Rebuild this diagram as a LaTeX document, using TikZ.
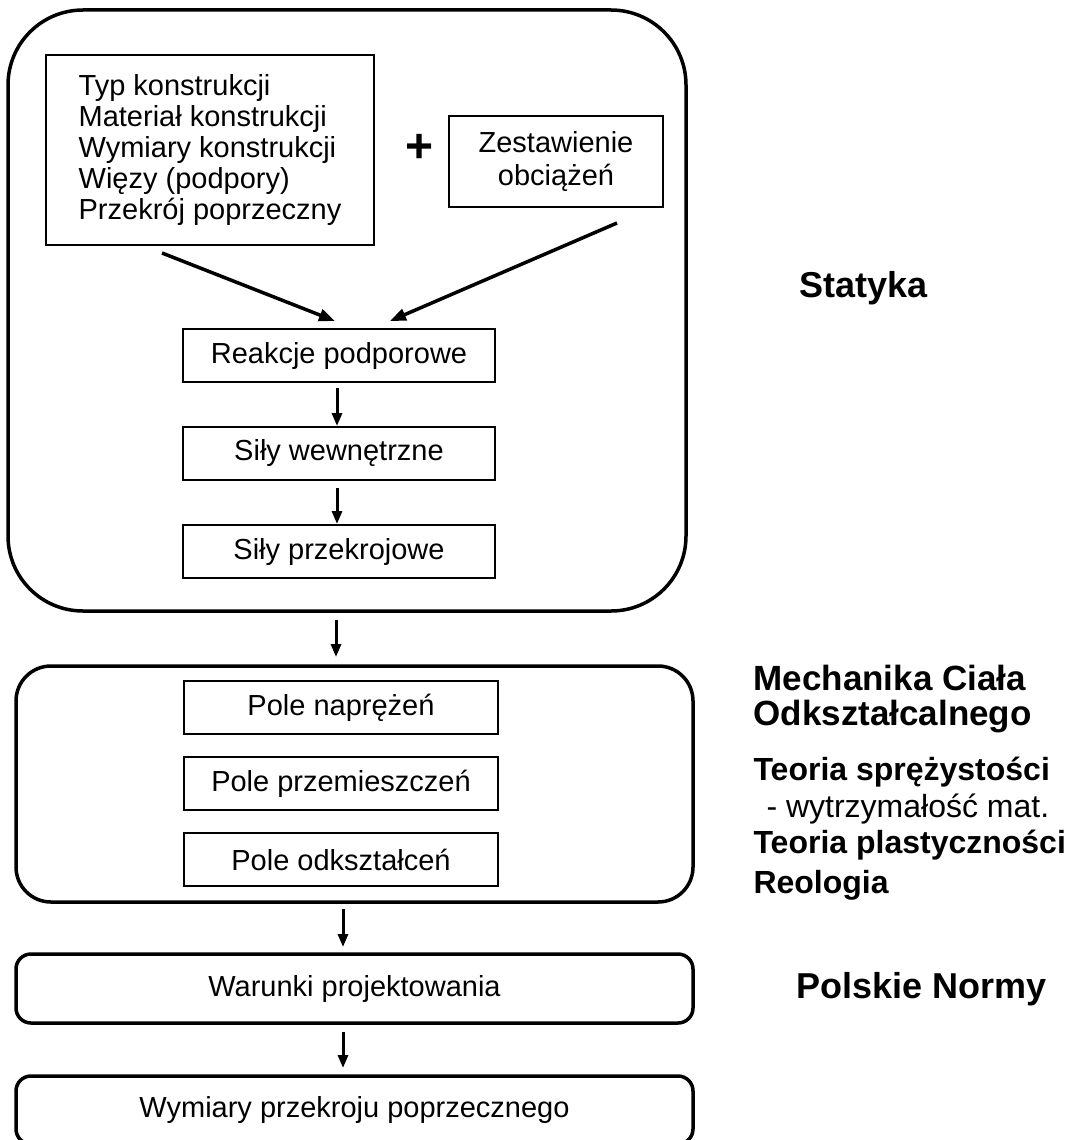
\documentclass[tikz,border=0pt]{standalone}
\usepackage{fontspec}
\setmainfont{Liberation Sans}
\usetikzlibrary{arrows.meta}
\usetikzlibrary{positioning}
\tikzset{
	>={Triangle[length=13pt,width=10pt]},
	punkt/.style={
		rectangle,
		draw=black, line width=2pt,
		minimum width=312pt,
		minimum height=53pt,
		inner sep=0pt, outer sep=0pt,
		text centered,
		font=\fontsize{29}{31}\selectfont},
	grupa/.style={
		rectangle,
		draw=black, line width=3.5pt,
		minimum width=677pt,
		inner sep=0pt, outer sep=0pt,
		font=\fontsize{29}{31}\selectfont},
	line/.style={draw, line width=3pt, ->},
	skos/.style={draw, line width=3.5pt, -{Triangle[length=16pt,width=12pt]}},
	tytul/.style={anchor=base west, font=\bfseries\fontsize{36}{36}\selectfont},
	teoria/.style={anchor=base west, font=\bfseries\fontsize{32}{32}\selectfont},
}

\begin{document}
\begin{tikzpicture}[x=1pt, y=-1pt, node distance=45pt]
	\useasboundingbox (0,0) rectangle (1072,1140);
	% grupy
	\node[grupa, minimum width=678pt, minimum height=601pt, rounded corners=75pt] (statyka) at (347,310.5) {};
	\node[grupa, minimum height=236pt, rounded corners=35pt] (mcp) at (354.5,784) {};
	\node[grupa, minimum height=69pt, rounded corners=15pt] (warunki) at (354.5,988.5) {Warunki projektowania};
	\node[grupa, minimum height=68pt, rounded corners=15pt] (wymiary) at (354.5,1110) {Wymiary przekroju poprzecznego};
	% statyka
	\node[punkt, minimum width=328pt, minimum height=190pt, align=left] (typ) at (210,150)
		{Typ konstrukcji\\Materiał konstrukcji\\Wymiary konstrukcji\\Więzy (podpory)\\Przekrój poprzeczny};
	\node[font=\bfseries\fontsize{48}{48}\selectfont] (plus) at (420,148) {+};
	\node[punkt, minimum width=214pt, minimum height=91pt, align=center, font=\fontsize{29}{33}\selectfont] (zest) at (556,161.5)
		{Zestawienie\\obciążeń};
	\node[punkt] (reakcje) at (339,355.5) {Reakcje podporowe};
	\node[punkt, below=of reakcje] (sily) {Siły wewnętrzne};
	\node[punkt, below=of sily] (przekroj) {Siły przekrojowe};
	% mechanika
	\node[punkt, minimum width=314pt] (napr) at (341,707.5) {Pole naprężeń};
	\node[punkt, minimum width=314pt, below=23pt of napr] (przem) {Pole przemieszczeń};
	\node[punkt, minimum width=314pt, below=23pt of przem] (odksz) {Pole odkształceń};

	\draw[skos] ([xshift=-48pt,yshift=-8pt]typ.south) -- ([xshift=-4pt,yshift=8pt]reakcje.north);
	\draw[skos] ([xshift=61pt,yshift=-16pt]zest.south) -- ([xshift=51pt,yshift=8pt]reakcje.north);
	\draw[line, shorten <=6pt, shorten >=1pt] ([xshift=-2pt]reakcje.south) -- ([xshift=-2pt]sily.north);
	\draw[line, shorten <=8pt, shorten >=1pt] ([xshift=-2pt]sily.south) -- ([xshift=-2pt]przekroj.north);
	\draw[line, shorten <=9pt, shorten >=9pt] ([xshift=-3pt]statyka.south -| przekroj) -- ([xshift=-3pt]mcp.north -| przekroj);
	\draw[line, shorten <=7pt, shorten >=7pt] ([xshift=2pt]mcp.south -| odksz) -- ([xshift=2pt]warunki.north -| odksz);
	\draw[line, shorten <=9pt, shorten >=8pt] ([xshift=2pt]warunki.south -| odksz) -- ([xshift=2pt]wymiary.north -| odksz);

	% opisy
	\node[tytul] (t_stat) at (796,297) {Statyka};
	\node[tytul, font=\bfseries\fontsize{35}{35}\selectfont] (t_mech) at (750,690) {Mechanika Ciała};
	\node[tytul, font=\bfseries\fontsize{35}{35}\selectfont] (t_odk) at (750,725) {Odkształcalnego};
	\node[teoria] (t_spr) at (750,780) {Teoria sprężystości};
	\node[teoria, font=\fontsize{32}{32}\selectfont] (t_wytrz) at (763,817) {- wytrzymałość mat.};
	\node[teoria] (t_plast) at (750,853) {Teoria plastyczności};
	\node[teoria] (t_reo) at (750,893) {Reologia};
	\node[tytul] (t_norm) at (793,998) {Polskie Normy};
\end{tikzpicture}
\end{document}
